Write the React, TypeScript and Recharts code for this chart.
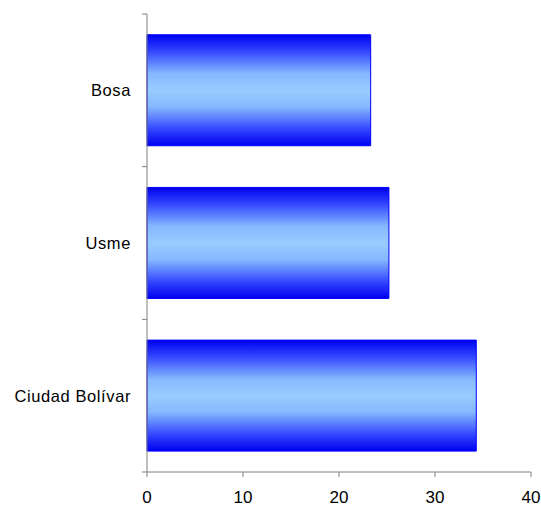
import { BarChart, Bar, XAxis, YAxis } from "recharts";

const categories = ["Bosa", "Usme", "Ciudad Bolívar"];
const values = [23.3, 25.2, 34.3];
const xTicks = [0, 10, 20, 30, 40];

const data = categories.map((name, i) => ({ name, value: values[i] }));

const W = 541;
const H = 508;
const PLOT_LEFT = 147;
const PLOT_TOP = 14;
const PLOT_BOTTOM = 472;
const BAND = (PLOT_BOTTOM - PLOT_TOP) / categories.length;
const AXIS_COLOR = "#808080";
const FONT = "'Liberation Sans', Arial, sans-serif";

const CategoryTick = (props: any) => {
  const { y, payload, index } = props;
  const top = y - BAND / 2;
  const bottom = y + BAND / 2;
  return (
    <g>
      <line x1={PLOT_LEFT - 5} x2={PLOT_LEFT} y1={top} y2={top} stroke={AXIS_COLOR} />
      {index === categories.length - 1 && (
        <line x1={PLOT_LEFT - 5} x2={PLOT_LEFT} y1={bottom} y2={bottom} stroke={AXIS_COLOR} />
      )}
      <text
        x={PLOT_LEFT - 16}
        y={y}
        textAnchor="end"
        dominantBaseline="central"
        fill="#000"
        fontSize={16.5}
        letterSpacing={0.6}
        fontFamily={FONT}
      >
        {payload.value}
      </text>
    </g>
  );
};

export default function App() {
  return (
    <div style={{ position: "absolute", left: 0, top: 0, width: W, height: H, background: "#fff" }}>
      <BarChart
        width={W}
        height={H}
        data={data}
        layout="vertical"
        margin={{ top: PLOT_TOP, right: W - 531, bottom: 0, left: 0 }}
        barCategoryGap="13.6%"
      >
        <defs>
          <linearGradient id="barGrad" x1="0" y1="0" x2="0" y2="1">
            <stop offset="0%" stopColor="#0000ee" />
            <stop offset="15%" stopColor="#3347ff" />
            <stop offset="35%" stopColor="#85b8ff" />
            <stop offset="50%" stopColor="#99ccff" />
            <stop offset="65%" stopColor="#85b8ff" />
            <stop offset="85%" stopColor="#3347ff" />
            <stop offset="100%" stopColor="#0000ee" />
          </linearGradient>
        </defs>
        <XAxis
          type="number"
          domain={[0, 40]}
          ticks={xTicks}
          height={H - PLOT_BOTTOM}
          axisLine={{ stroke: AXIS_COLOR }}
          tickLine={{ stroke: AXIS_COLOR }}
          tickSize={5}
          tickMargin={14}
          tick={{ fill: "#000", fontSize: 17, fontFamily: FONT }}
          interval={0}
        />
        <YAxis
          type="category"
          dataKey="name"
          width={PLOT_LEFT}
          axisLine={{ stroke: AXIS_COLOR }}
          tickLine={false}
          tick={<CategoryTick />}
          interval={0}
        />
        <Bar
          dataKey="value"
          fill="url(#barGrad)"
          stroke="#0000ff"
          strokeWidth={1}
          isAnimationActive={false}
        />
      </BarChart>
    </div>
  );
}
